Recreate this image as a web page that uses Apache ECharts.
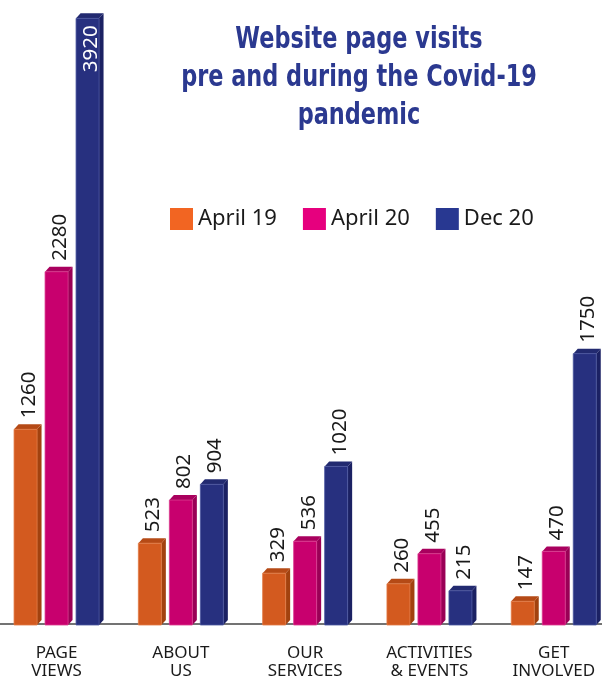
<!DOCTYPE html>
<html>
<head>
<meta charset="utf-8">
<script src="https://cdn.jsdelivr.net/npm/echarts@6/dist/echarts.min.js"></script>
<style>
html,body{margin:0;padding:0;background:#fff;}
#chart{width:602px;height:680px;}
</style>
</head>
<body>
<div id="chart"></div>
<script>
const categories = ['PAGE\nVIEWS', 'ABOUT\nUS', 'OUR\nSERVICES', 'ACTIVITIES\n& EVENTS', 'GET\nINVOLVED'];
const seriesNames = ['April 19', 'April 20', 'Dec 20'];
const april19 = [1260, 523, 329, 260, 147];
const april20 = [2280, 802, 536, 455, 470];
const dec20 = [3920, 904, 1020, 215, 1750];
const titleText = 'Website page visits\npre and during the Covid-19\npandemic';

const legendColors = ['#F26522', '#E6007E', '#283891'];
const faceColors = [
  {front: '#D35A1F', side: '#A2420F', top: '#B54A16', edge: '#E27A44'},
  {front: '#C8006E', side: '#9A0056', top: '#A9005E', edge: '#DA3A8E'},
  {front: '#27307F', side: '#1B2163', top: '#222A70', edge: '#4A55A0'}
];
const offsets = [-31, 0, 31];

function makeRender(si) {
  return function (params, api) {
    const v = api.value(1);
    const c = api.coord([api.value(0), v]);
    const b = api.coord([api.value(0), 0]);
    const w = 23, dx = 4.5, dy = 5;
    const x0 = c[0] + offsets[si] - w / 2;
    const top = c[1], base = b[1] + 1;
    const col = faceColors[si];
    const inside = top < 70;
    const lx = x0 + (w + dx) / 2 + 1.5;
    const text = String(v);
    return {
      type: 'group',
      children: [
        {type: 'polygon', shape: {points: [[x0 + w, top], [x0 + w + dx, top - dy], [x0 + w + dx, base - dy], [x0 + w, base]]}, style: {fill: col.side}},
        {type: 'polygon', shape: {points: [[x0, top], [x0 + dx, top - dy], [x0 + w + dx, top - dy], [x0 + w, top]]}, style: {fill: col.top}},
        {type: 'rect', shape: {x: x0, y: top, width: w, height: base - top}, style: {fill: col.front, stroke: col.edge, lineWidth: 0.8}},
        {
          type: 'text',
          x: lx,
          y: inside ? top + 7 : top - dy - 6,
          rotation: Math.PI / 2,
          style: {
            text: text,
            fill: inside ? '#ffffff' : '#1a1a1a',
            font: '20.5px "Noto Sans", sans-serif',
            align: inside ? 'right' : 'left',
            verticalAlign: 'middle',
            textAlign: inside ? 'right' : 'left',
            textVerticalAlign: 'middle'
          }
        }
      ]
    };
  };
}

const allData = [april19, april20, dec20];
const series = seriesNames.map((name, si) => ({
  name: name,
  type: 'custom',
  renderItem: makeRender(si),
  itemStyle: {color: legendColors[si]},
  encode: {x: 0, y: 1},
  data: allData[si].map((v, i) => [i, v]),
  clip: false,
  z: 3
}));

const chart = echarts.init(document.getElementById('chart'), null, {renderer: 'canvas'});
chart.setOption({
  animation: false,
  backgroundColor: '#ffffff',
  graphic: [{
    type: 'text',
    x: 359,
    y: 21,
    scaleX: 0.83,
    style: {
      text: titleText,
      fill: '#2B3990',
      font: 'bold 30px "DejaVu Sans Condensed", sans-serif',
      lineHeight: 38,
      align: 'center',
      textAlign: 'center',
      verticalAlign: 'top',
      textVerticalAlign: 'top'
    }
  }],
  legend: {
    data: seriesNames,
    left: 170,
    top: 208,
    padding: 0,
    itemWidth: 23,
    itemHeight: 22,
    itemGap: 26,
    icon: 'rect',
    textStyle: {color: '#1a1a1a', fontSize: 22, fontFamily: '"Noto Sans", sans-serif', padding: [0, 0, 0, 0]}
  },
  grid: {left: -5.6, right: -13.9, top: 6, bottom: 56, outerBoundsMode: 'none', containLabel: false},
  xAxis: {
    type: 'category',
    data: categories,
    boundaryGap: true,
    axisLine: {show: true, lineStyle: {color: '#444444', width: 1.5}},
    axisTick: {show: false},
    axisLabel: {
      interval: 0,
      margin: 20,
      color: '#1a1a1a',
      fontSize: 17,
      lineHeight: 18,
      fontFamily: '"Noto Sans", sans-serif'
    }
  },
  yAxis: {
    type: 'value',
    min: 0,
    max: 4000,
    show: false,
    splitLine: {show: false}
  },
  series: series
});
</script>
</body>
</html>
